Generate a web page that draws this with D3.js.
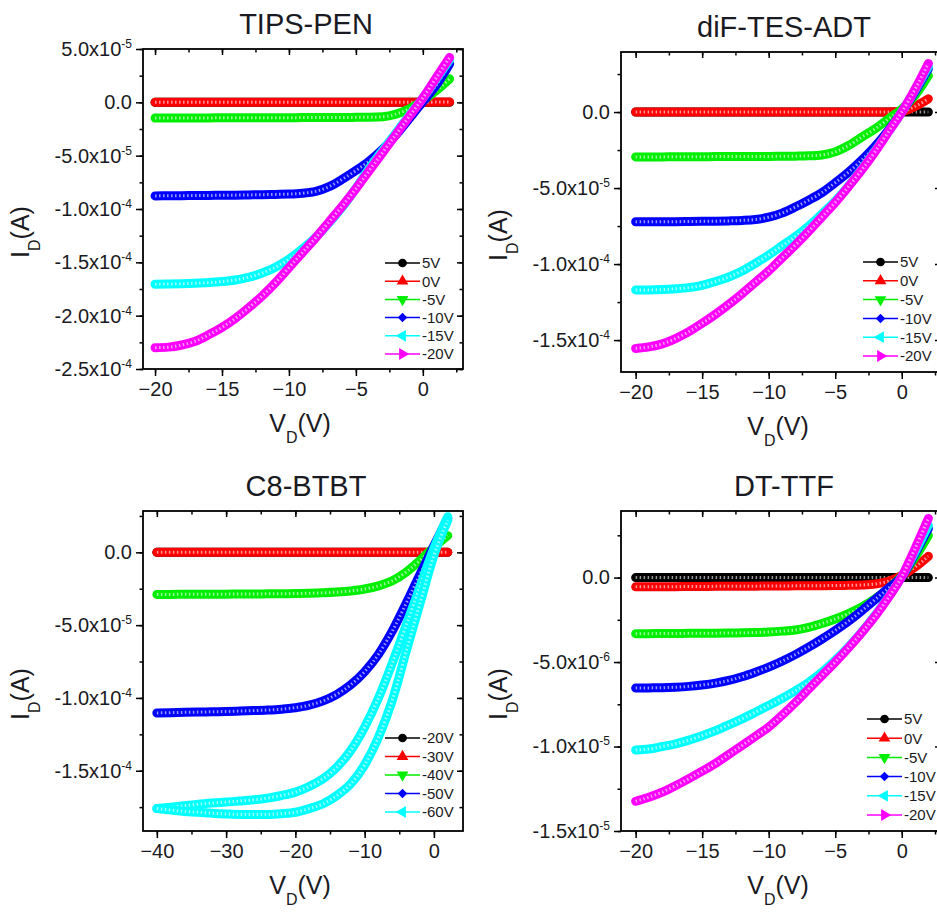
<!DOCTYPE html>
<html>
<head>
<meta charset="utf-8">
<script src="https://cdnjs.cloudflare.com/ajax/libs/d3/7.8.5/d3.min.js"></script>
<style>
body { margin: 0; background: #fff; }
svg { display: block; font-family: "Liberation Sans", Arial, sans-serif; }
</style>
</head>
<body>
<div id="fig"></div>
<script>
// drain voltage grids (V)
var vdShort = [-20,-19,-18,-17,-16,-15,-14,-13,-12,-11,-10,-9,-8,-7,-6,-5,-4,-3,-2,-1,0,1,2];
var vdLong = [-40,-38,-36,-34,-32,-30,-28,-26,-24,-22,-20,-18,-16,-14,-12,-10,-8,-6,-4,-2,0,2];

// drain currents, in uA
var uA = 1e-6;

var tipsBlack = [0,0,0,0,0,0,0,0,0,0,0,0,0,0,0,0,0,0,0,0,0,0,0];
var tipsRed = [0,0,0,0,0,0,0,0,0,0,0,0,0,0,0,0,0,0,0,0,0.1,0.2,0.3];
var tipsGreen = [-14.7,-14.7,-14.6,-14.6,-14.6,-14.5,-14.5,-14.5,-14.4,-14.4,-14.4,-14.3,-14.3,-14.2,-14.2,-14.1,-14.0,-13.5,-11.0,-6.0,1.5,11.0,22.0];
var tipsBlue = [-87.7,-87.6,-87.5,-87.4,-87.3,-87.1,-87.0,-86.8,-86.6,-86.3,-86.0,-85.2,-83.5,-79.0,-72.0,-64.0,-55.0,-44.0,-30.5,-15.0,0.5,16.0,36.0];
var tipsCyan = [-170.5,-170.3,-170.0,-169.6,-169.0,-168.0,-166.5,-164.0,-160.0,-154.5,-147.0,-137.5,-126.5,-113.0,-98.0,-80.5,-62.0,-45.0,-28.5,-12.0,4.0,22.0,40.0];
var tipsMagenta = [-230.0,-229.5,-227.5,-224.0,-218.0,-211.0,-202.5,-192.5,-181.5,-169.0,-155.0,-141.0,-127.0,-112.0,-97.0,-81.0,-64.0,-47.0,-30.0,-13.0,4.0,23.0,42.0];

var difBlack = [0,0,0,0,0,0,0,0,0,0,0,0,0,0,0,0,0,0,0,0,0,0,0];
var difRed = [0,0,0,0,0,0,0,0,0,0,0,0,0,0,0,0,0,0,0,0,0.3,3.7,8.7];
var difGreen = [-29.5,-29.5,-29.5,-29.4,-29.4,-29.4,-29.3,-29.3,-29.3,-29.2,-29.2,-29.1,-29.0,-28.8,-28.2,-26.2,-22.0,-16.5,-11.0,-4.5,2.0,11.0,24.0];
var difBlue = [-72.2,-72.2,-72.1,-72.1,-72.0,-71.9,-71.8,-71.6,-71.3,-70.7,-69.2,-66.5,-62.5,-58.0,-53.0,-46.5,-39.5,-31.5,-22.5,-12.0,0.0,13.5,28.5];
var difCyan = [-117.0,-117.0,-116.8,-116.3,-115.5,-114.0,-111.5,-108.5,-104.5,-99.5,-94.0,-88.0,-82.0,-75.0,-67.0,-58.5,-48.5,-37.5,-25.5,-13.0,0.0,14.5,30.0];
var difMagenta = [-155.5,-154.5,-152.5,-149.0,-144.5,-139.0,-133.0,-126.5,-119.5,-112.0,-104.5,-96.0,-87.5,-78.5,-69.0,-59.5,-49.0,-38.0,-26.0,-13.0,0.0,15.0,32.0];

var c8Black = [0,0,0,0,0,0,0,0,0,0,0,0,0,0,0,0,0,0,0,0,0,0];
var c8Red = [0,0,0,0,0,0,0,0,0,0,0,0,0,0,0,0,0,0,0,0,0,0];
var c8Green = [-28.9,-28.9,-28.8,-28.8,-28.7,-28.7,-28.6,-28.6,-28.5,-28.4,-28.3,-28.1,-27.8,-27.3,-26.5,-25.2,-23.0,-19.5,-13.5,-5.5,3.5,11.5];
var c8Blue = [-110.3,-110.1,-109.9,-109.7,-109.5,-109.3,-109.0,-108.7,-108.3,-107.7,-106.7,-105.0,-102.0,-97.5,-91.0,-82.0,-70.0,-54.0,-35.0,-15.0,4.5,23.5];
var c8CyanFwd = [-176.0,-175.0,-174.0,-173.0,-172.2,-171.5,-170.8,-170.0,-168.8,-167.0,-164.7,-160.8,-155.5,-147.5,-136.0,-120.0,-100.0,-76.0,-50.0,-23.5,2.8,24.5];
var c8CyanRev = [-176.0,-177.0,-178.0,-178.5,-179.2,-179.7,-180.0,-180.0,-180.0,-179.5,-178.5,-176.0,-172.7,-167.0,-159.0,-146.0,-127.0,-101.5,-68.0,-35.0,-2.0,22.0];

var dtBlack = [0,0,0,0,0,0,0,0,0,0,0,0,0,0,0,0,0,0,0,0,0,0,0];
var dtRed = [-0.55,-0.55,-0.54,-0.54,-0.53,-0.53,-0.52,-0.52,-0.51,-0.51,-0.50,-0.50,-0.49,-0.49,-0.48,-0.47,-0.46,-0.44,-0.38,-0.22,0.12,0.62,1.26];
var dtGreen = [-3.32,-3.32,-3.31,-3.31,-3.30,-3.30,-3.29,-3.28,-3.27,-3.25,-3.22,-3.17,-3.10,-2.95,-2.72,-2.45,-2.13,-1.74,-1.25,-0.65,0.10,1.20,2.50];
var dtBlue = [-6.54,-6.53,-6.52,-6.49,-6.44,-6.36,-6.25,-6.09,-5.87,-5.60,-5.30,-4.95,-4.56,-4.12,-3.64,-3.13,-2.58,-1.96,-1.30,-0.63,0.05,1.42,2.90];
var dtCyan = [-10.20,-10.15,-10.00,-9.84,-9.62,-9.36,-9.06,-8.72,-8.36,-7.97,-7.57,-7.16,-6.70,-6.20,-5.60,-4.90,-4.10,-3.22,-2.23,-1.15,0.05,1.52,3.10];
var dtMagenta = [-13.24,-13.00,-12.70,-12.32,-11.90,-11.46,-11.00,-10.47,-9.94,-9.40,-8.85,-8.15,-7.40,-6.60,-5.80,-5.00,-4.15,-3.25,-2.28,-1.18,0.05,1.72,3.50];

// legend entries (gate voltages)
var gatesShort = ["5V", "0V", "-5V", "-10V", "-15V", "-20V"];
var gatesC8 = ["-20V", "-30V", "-40V", "-50V", "-60V"];

// tick values and labels
var xTicksShort = [-20, -15, -10, -5, 0];
var xTicksLong = [-40, -30, -20, -10, 0];
var tipsYTicks = [5e-5, 0, -5e-5, -1e-4, -1.5e-4, -2e-4, -2.5e-4];
var tipsYLabels = ["5.0x10^-5", "0.0", "-5.0x10^-5", "-1.0x10^-4", "-1.5x10^-4", "-2.0x10^-4", "-2.5x10^-4"];
var midYTicks = [0, -5e-5, -1e-4, -1.5e-4];
var midYLabels = ["0.0", "-5.0x10^-5", "-1.0x10^-4", "-1.5x10^-4"];
var dtYTicks = [0, -5e-6, -1e-5, -1.5e-5];
var dtYLabels = ["0.0", "-5.0x10^-6", "-1.0x10^-5", "-1.5x10^-5"];

var colors = ["#000000", "#ff0000", "#00ee00", "#0000ff", "#00ffff", "#ff00ff"];
var shapes = ["circle", "up", "down", "diamond", "left", "right"];

var panels = [
	{title: "TIPS-PEN", left: 143, top: 49, xDomain: [-20.9, 3], yDomain: [-2.5e-4, 5e-5],
	 xTicks: xTicksShort, xMinor: 2.5, yTicks: tipsYTicks, yLabels: tipsYLabels, yMinor: 2.5e-5,
	 vd: vdShort, curves: [tipsBlack, tipsRed, tipsGreen, tipsBlue, tipsCyan, tipsMagenta], cidx: [0,1,2,3,4,5],
	 names: gatesShort, legend: [242, 214, 18.2]},
	{title: "diF-TES-ADT", left: 621, top: 52, xDomain: [-21.1, 2.95], yDomain: [-1.71e-4, 3.95e-5],
	 xTicks: xTicksShort, xMinor: 2.5, yTicks: midYTicks, yLabels: midYLabels, yMinor: 2.5e-5,
	 vd: vdShort, curves: [difBlack, difRed, difGreen, difBlue, difCyan, difMagenta], cidx: [0,1,2,3,4,5],
	 names: gatesShort, legend: [242, 210, 18.8]},
	{title: "C8-BTBT", left: 143, top: 511, xDomain: [-42, 4.2], yDomain: [-1.914e-4, 2.84e-5],
	 xTicks: xTicksLong, xMinor: 5, yTicks: midYTicks, yLabels: midYLabels, yMinor: 2.5e-5,
	 vd: vdLong, curves: [c8Black, c8Red, c8Green, c8Blue, c8CyanFwd, c8CyanRev], cidx: [0,1,2,3,4,4],
	 names: gatesC8, legend: [242, 227, 18.5]},
	{title: "DT-TTF", left: 621, top: 511, xDomain: [-21.1, 2.95], yDomain: [-1.5e-5, 3.94e-6],
	 xTicks: xTicksShort, xMinor: 2.5, yTicks: dtYTicks, yLabels: dtYLabels, yMinor: 2.5e-6,
	 vd: vdShort, curves: [dtBlack, dtRed, dtGreen, dtBlue, dtCyan, dtMagenta], cidx: [0,1,2,3,4,5],
	 names: gatesShort, legend: [246, 208, 19.2]}
];

var pw = 320, ph = 320;

var svg = d3.select("#fig").append("svg")
	.attr("width", 937)
	.attr("height", 914);

function symbolPath(shape, size) {
	if (shape == "circle") return d3.symbol().type(d3.symbolCircle).size(size)();
	if (shape == "diamond") return d3.symbol().type(d3.symbolSquare).size(size * 0.75)();
	return d3.symbol().type(d3.symbolTriangle).size(size)();
}
function symbolRotate(shape) {
	if (shape == "down") return 180;
	if (shape == "left") return -90;
	if (shape == "right") return 90;
	if (shape == "diamond") return 45;
	return 0;
}

function minorTicks(domain, step) {
	var lo = Math.ceil(domain[0] / step - 1e-6), hi = Math.floor(domain[1] / step + 1e-6);
	return d3.range(lo, hi + 1).map(function(k) { return k * step; });
}

function styleAxis(g) {
	g.select(".domain").remove();
	g.attr("font-family", null).attr("font-size", 20).attr("color", "#000");
	g.selectAll(".tick line").attr("stroke-width", 1.5);
	g.selectAll(".tick text").attr("fill", "#1a1a22");
}

panels.forEach(function(p, pi) {
	var x = d3.scaleLinear().domain(p.xDomain).range([0, pw]);
	var y = d3.scaleLinear().domain(p.yDomain).range([ph, 0]);

	var g = svg.append("g").attr("transform", "translate(" + p.left + "," + p.top + ")");

	g.append("clipPath").attr("id", "clip" + pi)
		.append("rect").attr("width", pw).attr("height", ph);

	var xMin = minorTicks(p.xDomain, p.xMinor);
	var yMin = minorTicks(p.yDomain, p.yMinor);

	// minor ticks
	g.append("g").attr("transform", "translate(0," + ph + ")")
		.call(d3.axisBottom(x).tickValues(xMin).tickSize(3.5).tickFormat(""))
		.call(styleAxis);
	g.append("g")
		.call(d3.axisBottom(x).tickValues(xMin).tickSize(3.5).tickFormat(""))
		.call(styleAxis);
	g.append("g")
		.call(d3.axisLeft(y).tickValues(yMin).tickSize(3.5).tickFormat(""))
		.call(styleAxis);
	g.append("g").attr("transform", "translate(" + pw + ",0)")
		.call(d3.axisLeft(y).tickValues(yMin).tickSize(3.5).tickFormat(""))
		.call(styleAxis);

	// major ticks
	g.append("g").attr("transform", "translate(0," + ph + ")")
		.call(d3.axisBottom(x).tickValues(p.xTicks).tickSize(7).tickPadding(6).tickFormat(d3.format("d")))
		.call(styleAxis);
	g.append("g")
		.call(d3.axisBottom(x).tickValues(p.xTicks).tickSize(6).tickFormat(""))
		.call(styleAxis);
	var yAx = g.append("g")
		.call(d3.axisLeft(y).tickValues(p.yTicks).tickSize(7).tickPadding(4))
		.call(styleAxis);
	yAx.selectAll(".tick text").each(function(d, i) {
		var parts = p.yLabels[i].split("^");
		var t = d3.select(this).text(parts[0]);
		if (parts.length > 1) {
			t.append("tspan").attr("font-size", 12).attr("dy", -8).text(parts[1]);
		}
	});
	g.append("g").attr("transform", "translate(" + pw + ",0)")
		.call(d3.axisLeft(y).tickValues(p.yTicks).tickSize(6).tickFormat(""))
		.call(styleAxis);

	// curves: dense open markers drawn as a thick band with a hollow texture
	var line = d3.line()
		.x(function(d) { return x(d[0]); })
		.y(function(d) { return y(d[1] * uA); })
		.curve(d3.curveMonotoneX);

	var plot = g.append("g").attr("clip-path", "url(#clip" + pi + ")");
	p.curves.forEach(function(c, ci) {
		var pts = p.vd.map(function(v, k) { return [v, c[k]]; });
		var col = colors[p.cidx[ci]];
		plot.append("path")
			.datum(pts)
			.attr("d", line)
			.attr("fill", "none")
			.attr("stroke", col)
			.attr("stroke-width", 9)
			.attr("stroke-linecap", "round")
			.attr("stroke-linejoin", "round");
		plot.append("path")
			.datum(pts)
			.attr("d", line)
			.attr("fill", "none")
			.attr("stroke", "#fff")
			.attr("stroke-opacity", 0.6)
			.attr("stroke-width", 3)
			.attr("stroke-dasharray", "1.5 2.5");
	});

	// frame
	g.append("rect")
		.attr("width", pw).attr("height", ph)
		.attr("fill", "none").attr("stroke", "#000").attr("stroke-width", 1.8);

	// legend
	var lg = g.append("g").attr("transform", "translate(" + p.legend[0] + "," + p.legend[1] + ")");
	p.names.forEach(function(n, i) {
		var row = lg.append("g").attr("transform", "translate(0," + (i * p.legend[2]) + ")");
		row.append("line").attr("x1", 0).attr("x2", 35)
			.attr("stroke", colors[i]).attr("stroke-width", 1.5);
		row.append("path")
			.attr("d", symbolPath(shapes[i], 60))
			.attr("transform", "translate(17.5,0) rotate(" + symbolRotate(shapes[i]) + ")")
			.attr("fill", colors[i]);
		row.append("text").attr("x", 37).attr("dy", "0.36em")
			.attr("font-size", 15).attr("fill", "#1a1a22").text(n);
	});

	// titles
	g.append("text")
		.attr("x", pw / 2 + 3).attr("y", -15)
		.attr("text-anchor", "middle").attr("font-size", 29).attr("fill", "#1a1a22")
		.text(p.title);

	var xl = g.append("text")
		.attr("x", pw / 2 - 3).attr("y", ph + 63)
		.attr("text-anchor", "middle").attr("font-size", 25).attr("fill", "#1a1a22");
	xl.append("tspan").text("V");
	xl.append("tspan").attr("font-size", 16).attr("dy", 11).text("D");
	xl.append("tspan").attr("dy", -11).text("(V)");

	var yl = g.append("text")
		.attr("transform", "translate(-114," + (ph / 2 + 23) + ") rotate(-90)")
		.attr("text-anchor", "middle").attr("font-size", 25).attr("fill", "#1a1a22");
	yl.append("tspan").text("I");
	yl.append("tspan").attr("font-size", 16).attr("dy", 11).text("D");
	yl.append("tspan").attr("dy", -11).text("(A)");
});
</script>
</body>
</html>
